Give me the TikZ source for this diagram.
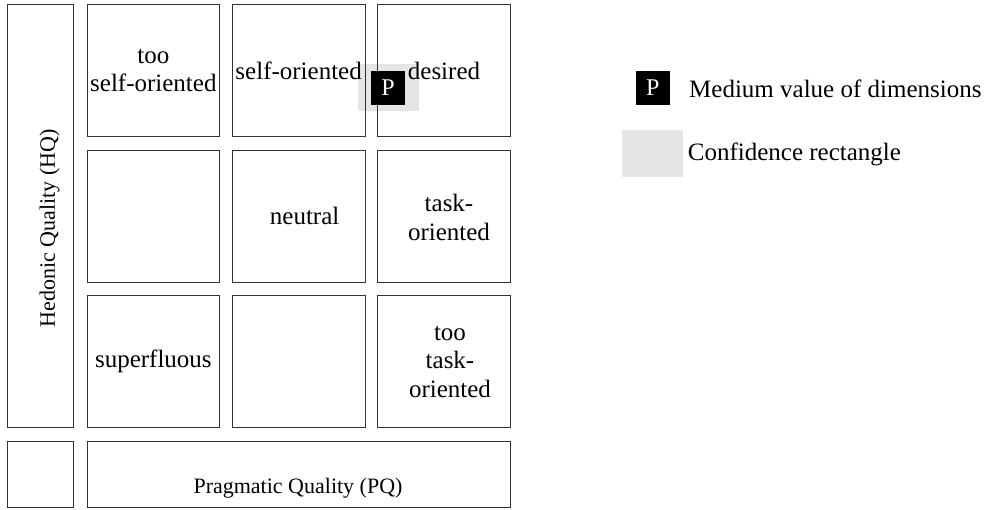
\documentclass[tikz,border=0pt]{standalone}
\usepackage{fontspec}
\setmainfont{Liberation Serif}
\definecolor{linec}{HTML}{333333}
\definecolor{confgray}{HTML}{E5E5E5}
\begin{document}
\begin{tikzpicture}[x=1pt,y=-1pt,
  cell/.style={draw=linec, line width=1pt, minimum width=132.7pt,
    minimum height=132.4pt, inner sep=0pt},
  celltext/.style={font=\fontsize{25}{28.5}\selectfont, align=center, inner sep=0pt},
  axistext/.style={font=\fontsize{22}{26}\selectfont, inner sep=0pt},
  legtext/.style={font=\fontsize{25}{29}\selectfont, inner sep=0pt, anchor=base west},
  conf/.style={fill=confgray, minimum width=60.7pt, minimum height=47pt, inner sep=0pt},
  pmark/.style={fill=black, text=white, minimum size=34pt, inner sep=0pt,
    font=\fontsize{24}{28}\selectfont}]
\useasboundingbox (0,0) rectangle (990,509);

% confidence rectangle sits underneath the grid
\node[conf] (ci) at (388.3,87.5) {};

% 3x3 grid of quality regions
\node[cell] (c11) at (153.35,70.5) {};
\node[cell] (c12) at (298.65,70.5) {};
\node[cell] (c13) at (444.0,70.5) {};
\node[cell] (c21) at (153.35,216.2) {};
\node[cell] (c22) at (298.65,216.2) {};
\node[cell] (c23) at (444.0,216.2) {};
\node[cell] (c31) at (153.35,361.7) {};
\node[cell] (c32) at (298.65,361.7) {};
\node[cell] (c33) at (444.0,361.7) {};

% axes
\node[draw=linec, line width=1pt, minimum width=66.4pt, minimum height=423.4pt, inner sep=0pt]
  (hq) at (40.5,216) {};
\node[draw=linec, line width=1pt, minimum width=66.4pt, minimum height=66pt, inner sep=0pt]
  (corner) at (40.5,474.7) {};
\node[draw=linec, line width=1pt, minimum width=423.3pt, minimum height=66pt, inner sep=0pt]
  (pq) at (298.65,474.7) {};
\node[axistext, rotate=90] (hqt) at (49.7,228.5) {Hedonic Quality (HQ)};
\node[axistext] (pqt) at (298,488) {Pragmatic Quality (PQ)};

% region names
\node[celltext] (t11) at (c11) {too\\self-oriented};
\node[celltext] (t12) at (c12) {self-oriented};
\node[celltext] (t13) at (c13) {desired};
\node[celltext] (t22) at ([xshift=6pt]c22.center) {neutral};
\node[celltext] (t23) at ([xshift=5pt,yshift=-1pt]c23.center) {task-\\oriented};
\node[celltext] (t31) at (c31) {superfluous};
\node[celltext] (t33) at ([xshift=6pt]c33.center) {too\\task-\\oriented};

% medium value marker
\node[pmark] (pm) at (388,87.5) {P};

% legend
\node[pmark] (lp) at (652.7,87.5) {P};
\node[legtext] (lpt) at (689,97.3) {Medium value of dimensions};
\node[conf] (lc) at (652.5,153.9) {};
\node[legtext] (lct) at (687.7,160) {Confidence rectangle};
\end{tikzpicture}
\end{document}
